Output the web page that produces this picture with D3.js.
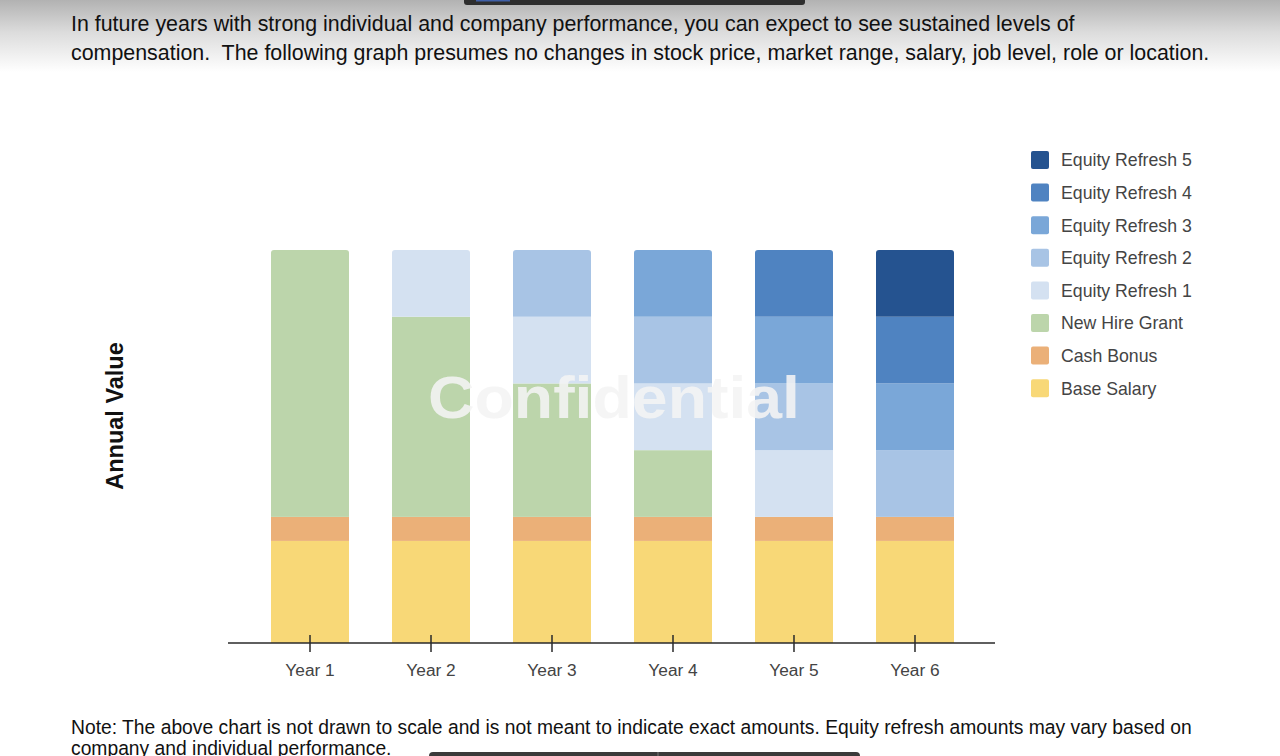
<!DOCTYPE html>
<html>
<head>
<meta charset="utf-8">
<script src="https://cdn.jsdelivr.net/npm/d3@7"></script>
<style>
  html, body { margin: 0; padding: 0; background: #fff; overflow: hidden; }
  svg { display: block; font-family: "Liberation Sans", Arial, Helvetica, sans-serif; }
</style>
</head>
<body>
<div id="chart"></div>
<script>
// values (not to scale, in thousands)
const years = ["Year 1", "Year 2", "Year 3", "Year 4", "Year 5", "Year 6"];
const keys = ["Base Salary", "Cash Bonus", "New Hire Grant", "Equity Refresh 1",
    "Equity Refresh 2", "Equity Refresh 3", "Equity Refresh 4", "Equity Refresh 5"];
const baseSalary = [153, 153, 153, 153, 153, 153];
const cashBonus = [36, 36, 36, 36, 36, 36];
const newHireGrant = [400, 300, 200, 100, 0, 0];
const equityRefresh1 = [0, 100, 100, 100, 100, 0];
const equityRefresh2 = [0, 0, 100, 100, 100, 100];
const equityRefresh3 = [0, 0, 0, 100, 100, 100];
const equityRefresh4 = [0, 0, 0, 0, 100, 100];
const equityRefresh5 = [0, 0, 0, 0, 0, 100];
const colors = ["#f8d877", "#ebb078", "#bcd5ab", "#d4e1f1", "#a8c4e5", "#7aa7d8", "#4f83c1", "#255390"];

const headerLines = [
    "In future years with strong individual and company performance, you can expect to see sustained levels of",
    "compensation.  The following graph presumes no changes in stock price, market range, salary, job level, role or location."
];
const noteLines = [
    "Note: The above chart is not drawn to scale and is not meant to indicate exact amounts. Equity refresh amounts may vary based on",
    "company and individual performance."
];

// build rows for the stack
const series = [baseSalary, cashBonus, newHireGrant, equityRefresh1, equityRefresh2, equityRefresh3, equityRefresh4, equityRefresh5];
const data = years.map(function(y, i) {
    const row = { year: y };
    keys.forEach(function(k, j) { row[k] = series[j][i]; });
    return row;
});

const width = 1280;
const height = 756;

const svg = d3.select("#chart")
    .append("svg")
    .attr("width", width)
    .attr("height", height);

// top shadow gradient
const defs = svg.append("defs");
const grad = defs.append("linearGradient")
    .attr("id", "topShade")
    .attr("x1", 0).attr("y1", 0).attr("x2", 0).attr("y2", 1);
grad.append("stop").attr("offset", "0%").attr("stop-color", "#b2b2b2");
grad.append("stop").attr("offset", "45%").attr("stop-color", "#dcdcdc");
grad.append("stop").attr("offset", "100%").attr("stop-color", "#ffffff");

svg.append("rect")
    .attr("x", 0).attr("y", 0)
    .attr("width", width).attr("height", 72)
    .attr("fill", "url(#topShade)");

// dark toolbar pieces at top and bottom
svg.append("rect")
    .attr("x", 464).attr("y", -6)
    .attr("width", 341).attr("height", 11)
    .attr("rx", 3)
    .attr("fill", "#2e2e2e");
svg.append("rect")
    .attr("x", 476).attr("y", 0)
    .attr("width", 34).attr("height", 1.5)
    .attr("fill", "#3f5fa6");

// header text
svg.append("g")
    .selectAll("text")
    .data(headerLines)
    .enter()
    .append("text")
    .attr("x", 71)
    .attr("y", function(d, i) { return 31 + i * 29; })
    .attr("font-size", 21.4)
    .attr("fill", "#111")
    .attr("xml:space", "preserve")
    .text(function(d) { return d; });

// scales
const x = d3.scaleBand()
    .domain(years)
    .range([229, 996])
    .paddingInner(0.355)
    .paddingOuter(0.347);

const total = d3.max(data, function(d) { return d3.sum(keys, function(k) { return d[k]; }); });
const y = d3.scaleLinear()
    .domain([0, total])
    .range([643, 250]);

const stacked = d3.stack().keys(keys)(data);

// clip each column so the top gets rounded corners
years.forEach(function(yr, i) {
    const sum = d3.sum(keys, function(k) { return data[i][k]; });
    defs.append("clipPath")
        .attr("id", "col" + i)
        .append("rect")
        .attr("x", x(yr))
        .attr("y", y(sum))
        .attr("width", x.bandwidth())
        .attr("height", y(0) - y(sum) + 6)
        .attr("rx", 3);
});

const layers = svg.append("g")
    .selectAll("g")
    .data(stacked)
    .enter()
    .append("g")
    .attr("fill", function(d, i) { return colors[i]; });

layers.selectAll("rect")
    .data(function(d) { return d; })
    .enter()
    .append("rect")
    .filter(function(d) { return d[1] - d[0] > 0; })
    .attr("clip-path", function(d) { return "url(#col" + years.indexOf(d.data.year) + ")"; })
    .attr("x", function(d) { return x(d.data.year); })
    .attr("y", function(d) { return y(d[1]); })
    .attr("width", x.bandwidth())
    .attr("height", function(d) { return y(d[0]) - y(d[1]); });

// watermark
svg.append("text")
    .attr("x", 428)
    .attr("y", 418)
    .attr("font-size", 60)
    .attr("font-weight", "bold")
    .attr("fill", "#f4f4f4")
    .attr("fill-opacity", 0.88)
    .attr("textLength", 372)
    .attr("lengthAdjust", "spacingAndGlyphs")
    .text("Confidential");

// x axis
const axis = svg.append("g")
    .attr("transform", "translate(0,643)")
    .call(d3.axisBottom(x).tickSize(0).tickPadding(0));
axis.select(".domain").remove();
axis.selectAll("text").remove();

axis.append("line")
    .attr("x1", 228).attr("x2", 995)
    .attr("y1", 0).attr("y2", 0)
    .attr("stroke", "#2a2a2a")
    .attr("stroke-width", 1.5);

axis.selectAll(".tick")
    .append("line")
    .attr("y1", -8).attr("y2", 9)
    .attr("stroke", "#2a2a2a")
    .attr("stroke-width", 1.5);

axis.selectAll(".tick")
    .append("text")
    .attr("y", 33)
    .attr("text-anchor", "middle")
    .attr("font-size", 17.3)
    .attr("fill", "#444")
    .text(function(d) { return d; });

// y axis title
svg.append("text")
    .attr("transform", "translate(123,416) rotate(-90)")
    .attr("text-anchor", "middle")
    .attr("font-size", 23.5)
    .attr("font-weight", "bold")
    .attr("fill", "#111")
    .text("Annual Value");

// legend, top item is the last key
const legendKeys = keys.slice().reverse();
const legend = svg.append("g")
    .selectAll("g")
    .data(legendKeys)
    .enter()
    .append("g")
    .attr("transform", function(d, i) { return "translate(1031," + (160 + i * 32.6) + ")"; });

legend.append("rect")
    .attr("x", 0).attr("y", -9)
    .attr("width", 18).attr("height", 18)
    .attr("rx", 2)
    .attr("fill", function(d) { return colors[keys.indexOf(d)]; });

legend.append("text")
    .attr("x", 30)
    .attr("dy", "0.36em")
    .attr("font-size", 17.7)
    .attr("fill", "#444")
    .text(function(d) { return d; });

// note text (second line runs under the bottom edge, as in the original)
svg.append("g")
    .selectAll("text")
    .data(noteLines)
    .enter()
    .append("text")
    .attr("x", 71)
    .attr("y", function(d, i) { return 734 + i * 21; })
    .attr("font-size", 19.3)
    .attr("fill", "#111")
    .text(function(d) { return d; });

// bottom toolbar
svg.append("rect")
    .attr("x", 429).attr("y", 752)
    .attr("width", 431).attr("height", 12)
    .attr("rx", 4)
    .attr("fill", "#3a3a3a");
svg.append("line")
    .attr("x1", 658).attr("x2", 658)
    .attr("y1", 752).attr("y2", 756)
    .attr("stroke", "#777");
</script>
</body>
</html>
